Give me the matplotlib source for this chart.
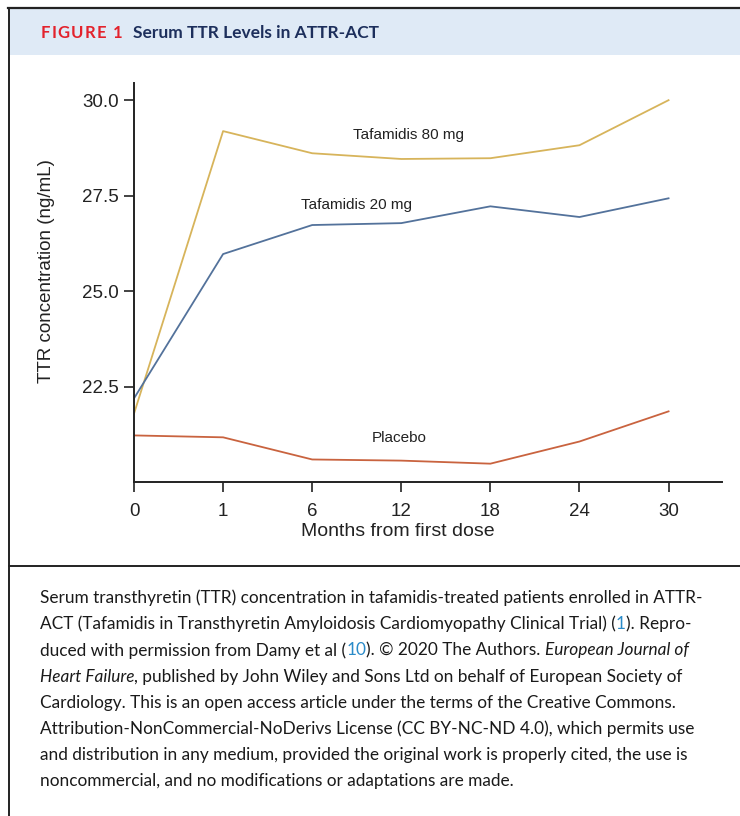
import matplotlib
matplotlib.use("Agg")
import matplotlib.pyplot as plt
from matplotlib.lines import Line2D
from matplotlib.patches import Rectangle

W, H = 740, 816

months = ["0", "1", "6", "12", "18", "24", "30"]
taf80 = [21.79, 29.19, 28.61, 28.46, 28.48, 28.82, 30.0]
taf20 = [22.19, 25.97, 26.73, 26.78, 27.22, 26.94, 27.43]
placebo = [21.22, 21.17, 20.59, 20.56, 20.48, 21.06, 21.85]
yticks = [22.5, 25.0, 27.5, 30.0]

c80 = "#D7B45B"
c20 = "#53729B"
cpl = "#C9633F"
navy = "#1D2F5C"
red = "#E3222C"
link = "#2A8BC9"
ink = "#222222"


def fx(px):
    return px / W


def fy(py):
    return 1 - py / H


fig = plt.figure(figsize=(W / 100, H / 100), dpi=100)
fig.patch.set_facecolor("white")
renderer = fig.canvas.get_renderer()

# ===== frame and header =====
fig.patches.append(Rectangle((fx(9), fy(55)), 1, fy(9) - fy(55), transform=fig.transFigure,
                             facecolor="#DFEAF6", edgecolor="none", zorder=0))
fig.add_artist(Line2D([fx(8), 1], [fy(8), fy(8)], color=ink, lw=1.6))
fig.add_artist(Line2D([fx(9), fx(9)], [fy(8), 0], color=ink, lw=1.4))
fig.add_artist(Line2D([fx(9), 1], [fy(566), fy(566)], color=ink, lw=1.4))

# letter-spaced "FIGURE 1"
xp = 41
for ch in "FIGURE 1":
    t = fig.text(fx(xp), fy(33), ch, color=red, fontsize=12, fontweight="bold",
                 family="Lato", va="center", ha="left")
    xp += t.get_window_extent(renderer=renderer).width + 1.2
fig.text(fx(133), fy(33), "Serum TTR Levels in ATTR-ACT", color=navy, fontsize=12.5,
         fontweight="bold", family="Lato", va="center")

# ===== chart =====
ax = fig.add_axes([fx(134), fy(482), fx(722) - fx(134), fy(83) - fy(482)])
x = range(len(months))
ax.plot(x, taf80, color=c80, lw=1.3)
ax.plot(x, taf20, color=c20, lw=1.3)
ax.plot(x, placebo, color=cpl, lw=1.3)

ax.set_xlim(0, 6.6)
ax.set_ylim(20.0, 30.45)
ax.set_xticks(list(x))
ax.set_xticklabels(months)
ax.set_yticks(yticks)
ax.set_yticklabels([f"{v:.1f}" for v in yticks])
for s in ["top", "right"]:
    ax.spines[s].set_visible(False)
for s in ["left", "bottom"]:
    ax.spines[s].set_color(ink)
    ax.spines[s].set_linewidth(1.4)
ax.tick_params(direction="out", length=7, width=1.2, color=ink,
               labelsize=13.5, labelcolor=ink)
ax.tick_params(axis="x", pad=8)
ax.tick_params(axis="y", pad=4)
for lab in ax.get_xticklabels() + ax.get_yticklabels():
    lab.set_family("Liberation Sans")

ax.text(3.08, 29.1, "Tafamidis 80 mg", fontsize=11, family="Liberation Sans",
        color=ink, ha="center", va="center")
ax.text(2.5, 27.25, "Tafamidis 20 mg", fontsize=11, family="Liberation Sans",
        color=ink, ha="center", va="center")
ax.text(2.98, 21.15, "Placebo", fontsize=11, family="Liberation Sans",
        color=ink, ha="center", va="center")

fig.text(fx(398), fy(531), "Months from first dose", fontsize=14, family="Liberation Sans",
         color=ink, ha="center", va="center")
fig.text(fx(47), fy(271), "TTR concentration (ng/mL)", fontsize=13.5, family="Liberation Sans",
         color=ink, rotation=90, ha="center", va="center")

# ===== caption =====
caption = [
    [("Serum transthyretin (TTR) concentration in tafamidis-treated patients enrolled in ATTR-", "n", None)],
    [("ACT (Tafamidis in Transthyretin Amyloidosis Cardiomyopathy Clinical Trial) (", "n", None),
     ("1", "n", link), ("). Repro-", "n", None)],
    [("duced with permission from Damy et al (", "n", None), ("10", "n", link),
     ("). \u00a9 2020 The Authors. ", "n", None), ("European Journal of", "i", None)],
    [("Heart Failure", "i", None),
     (", published by John Wiley and Sons Ltd on behalf of European Society of", "n", None)],
    [("Cardiology. This is an open access article under the terms of the Creative Commons.", "n", None)],
    [("Attribution-NonCommercial-NoDerivs License (CC BY-NC-ND 4.0), which permits use", "n", None)],
    [("and distribution in any medium, provided the original work is properly cited, the use is", "n", None)],
    [("noncommercial, and no modifications or adaptations are made.", "n", None)],
]

y0 = 598
for i, line in enumerate(caption):
    xp = 40
    for txt, style, col in line:
        t = fig.text(fx(xp), fy(y0 + i * 26.2), txt, fontsize=12.4, family="Lato",
                     style="italic" if style == "i" else "normal",
                     color=col or "#1a1a1a", va="center", ha="left")
        xp += t.get_window_extent(renderer=renderer).width

fig.savefig("out.png", dpi=100)
